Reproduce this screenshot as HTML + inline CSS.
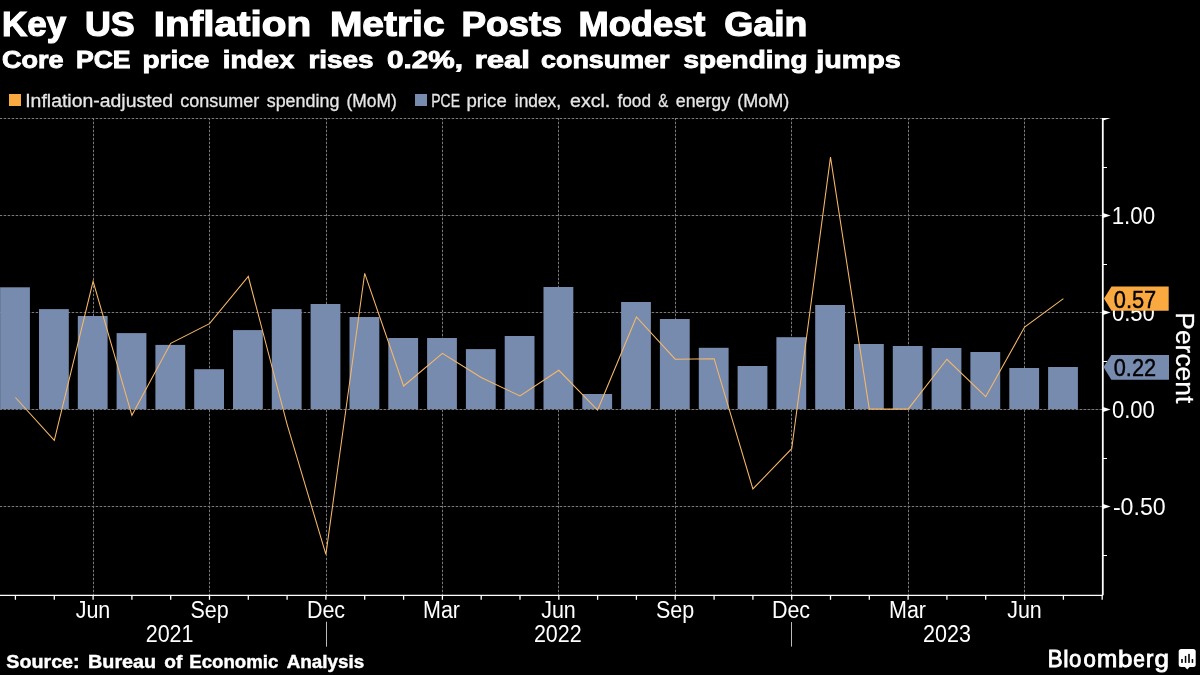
<!DOCTYPE html>
<html><head><meta charset="utf-8">
<style>
html,body{margin:0;padding:0;background:#000;width:1200px;height:675px;overflow:hidden}
svg{position:absolute;left:0;top:0;will-change:transform}
text{font-family:"Liberation Sans",sans-serif}
.g{stroke:#7a7a7a;stroke-width:1;stroke-dasharray:2.5 1.5;stroke-dashoffset:0.3}
</style></head><body>
<svg width="1200" height="675" viewBox="0 0 1200 675">
<rect width="1200" height="675" fill="#000"/>
<text x="2.02" y="36.4" font-size="35.5" font-weight="bold" fill="#fff" stroke="#fff" stroke-width="1.2" textLength="64.12" lengthAdjust="spacingAndGlyphs">Key</text>
<text x="84.99" y="36.4" font-size="35.5" font-weight="bold" fill="#fff" stroke="#fff" stroke-width="1.2" textLength="49.74" lengthAdjust="spacingAndGlyphs">US</text>
<text x="153.86" y="36.4" font-size="35.5" font-weight="bold" fill="#fff" stroke="#fff" stroke-width="1.2" textLength="157.32" lengthAdjust="spacingAndGlyphs">Inflation</text>
<text x="329.9" y="36.4" font-size="35.5" font-weight="bold" fill="#fff" stroke="#fff" stroke-width="1.2" textLength="114.71" lengthAdjust="spacingAndGlyphs">Metric</text>
<text x="461.46" y="36.4" font-size="35.5" font-weight="bold" fill="#fff" stroke="#fff" stroke-width="1.2" textLength="100.44" lengthAdjust="spacingAndGlyphs">Posts</text>
<text x="578.48" y="36.4" font-size="35.5" font-weight="bold" fill="#fff" stroke="#fff" stroke-width="1.2" textLength="126.96" lengthAdjust="spacingAndGlyphs">Modest</text>
<text x="724.35" y="36.4" font-size="35.5" font-weight="bold" fill="#fff" stroke="#fff" stroke-width="1.2" textLength="83.11" lengthAdjust="spacingAndGlyphs">Gain</text>
<text x="2.0" y="68.4" font-size="24.6" font-weight="bold" fill="#fff" stroke="#fff" stroke-width="0.9" textLength="61.65" lengthAdjust="spacingAndGlyphs">Core</text>
<text x="75.92" y="68.4" font-size="24.6" font-weight="bold" fill="#fff" stroke="#fff" stroke-width="0.9" textLength="54.71" lengthAdjust="spacingAndGlyphs">PCE</text>
<text x="142.46" y="68.4" font-size="24.6" font-weight="bold" fill="#fff" stroke="#fff" stroke-width="0.9" textLength="66.81" lengthAdjust="spacingAndGlyphs">price</text>
<text x="222.89" y="68.4" font-size="24.6" font-weight="bold" fill="#fff" stroke="#fff" stroke-width="0.9" textLength="71.26" lengthAdjust="spacingAndGlyphs">index</text>
<text x="308.47" y="68.4" font-size="24.6" font-weight="bold" fill="#fff" stroke="#fff" stroke-width="0.9" textLength="65.03" lengthAdjust="spacingAndGlyphs">rises</text>
<text x="387.0" y="68.4" font-size="24.6" font-weight="bold" fill="#fff" stroke="#fff" stroke-width="0.9" textLength="76.08" lengthAdjust="spacingAndGlyphs">0.2%,</text>
<text x="474.74" y="68.4" font-size="24.6" font-weight="bold" fill="#fff" stroke="#fff" stroke-width="0.9" textLength="55.23" lengthAdjust="spacingAndGlyphs">real</text>
<text x="541.0" y="68.4" font-size="24.6" font-weight="bold" fill="#fff" stroke="#fff" stroke-width="0.9" textLength="128.5" lengthAdjust="spacingAndGlyphs">consumer</text>
<text x="683.6" y="68.4" font-size="24.6" font-weight="bold" fill="#fff" stroke="#fff" stroke-width="0.9" textLength="123.89" lengthAdjust="spacingAndGlyphs">spending</text>
<text x="816.17" y="68.4" font-size="24.6" font-weight="bold" fill="#fff" stroke="#fff" stroke-width="0.9" textLength="84.54" lengthAdjust="spacingAndGlyphs">jumps</text>
<rect x="9" y="94" width="12" height="12" fill="#FAA940"/>
<text x="25.22" y="106.7" font-size="18" font-weight="normal" fill="#e6e6e6" stroke="#e6e6e6" stroke-width="0.3" textLength="147.96" lengthAdjust="spacingAndGlyphs">Inflation-adjusted</text>
<text x="180.3" y="106.7" font-size="18" font-weight="normal" fill="#e6e6e6" stroke="#e6e6e6" stroke-width="0.3" textLength="78.93" lengthAdjust="spacingAndGlyphs">consumer</text>
<text x="266.7" y="106.7" font-size="18" font-weight="normal" fill="#e6e6e6" stroke="#e6e6e6" stroke-width="0.3" textLength="72.67" lengthAdjust="spacingAndGlyphs">spending</text>
<text x="346.53" y="106.7" font-size="18" font-weight="normal" fill="#e6e6e6" stroke="#e6e6e6" stroke-width="0.3" textLength="50.23" lengthAdjust="spacingAndGlyphs">(MoM)</text>
<rect x="415" y="94" width="12" height="12" fill="#778BAF"/>
<text x="431.22" y="106.7" font-size="18" font-weight="normal" fill="#e6e6e6" stroke="#e6e6e6" stroke-width="0.3" textLength="28.79" lengthAdjust="spacingAndGlyphs">PCE</text>
<text x="466.47" y="106.7" font-size="18" font-weight="normal" fill="#e6e6e6" stroke="#e6e6e6" stroke-width="0.3" textLength="40.25" lengthAdjust="spacingAndGlyphs">price</text>
<text x="514.84" y="106.7" font-size="18" font-weight="normal" fill="#e6e6e6" stroke="#e6e6e6" stroke-width="0.3" textLength="46.17" lengthAdjust="spacingAndGlyphs">index,</text>
<text x="570.0" y="106.7" font-size="18" font-weight="normal" fill="#e6e6e6" stroke="#e6e6e6" stroke-width="0.3" textLength="40.31" lengthAdjust="spacingAndGlyphs">excl.</text>
<text x="617.5" y="106.7" font-size="18" font-weight="normal" fill="#e6e6e6" stroke="#e6e6e6" stroke-width="0.3" textLength="33.5" lengthAdjust="spacingAndGlyphs">food</text>
<text x="658.3" y="106.7" font-size="18" font-weight="normal" fill="#e6e6e6" stroke="#e6e6e6" stroke-width="0.3" textLength="10.01" lengthAdjust="spacingAndGlyphs">&amp;</text>
<text x="675.8" y="106.7" font-size="18" font-weight="normal" fill="#e6e6e6" stroke="#e6e6e6" stroke-width="0.3" textLength="54.25" lengthAdjust="spacingAndGlyphs">energy</text>
<text x="737.3" y="106.7" font-size="18" font-weight="normal" fill="#e6e6e6" stroke="#e6e6e6" stroke-width="0.3" textLength="52.0" lengthAdjust="spacingAndGlyphs">(MoM)</text>
<line x1="0" y1="118.5" x2="1102" y2="118.5" class="g"/>
<line x1="0" y1="215.5" x2="1102" y2="215.5" class="g"/>
<line x1="0" y1="312.5" x2="1102" y2="312.5" class="g"/>
<line x1="0" y1="409.5" x2="1102" y2="409.5" class="g"/>
<line x1="0" y1="506.5" x2="1102" y2="506.5" class="g"/>
<line x1="93.5" y1="118" x2="93.5" y2="595" class="g"/>
<line x1="209.5" y1="118" x2="209.5" y2="595" class="g"/>
<line x1="326.5" y1="118" x2="326.5" y2="595" class="g"/>
<line x1="442.5" y1="118" x2="442.5" y2="595" class="g"/>
<line x1="558.5" y1="118" x2="558.5" y2="595" class="g"/>
<line x1="675.5" y1="118" x2="675.5" y2="595" class="g"/>
<line x1="791.5" y1="118" x2="791.5" y2="595" class="g"/>
<line x1="908.5" y1="118" x2="908.5" y2="595" class="g"/>
<line x1="1024.5" y1="118" x2="1024.5" y2="595" class="g"/>
<rect x="0.1" y="287.3" width="29.8" height="121.7" fill="#778BAF"/>
<rect x="39.0" y="309.1" width="29.8" height="99.9" fill="#778BAF"/>
<rect x="77.8" y="316.0" width="29.8" height="93.0" fill="#778BAF"/>
<rect x="116.6" y="333.1" width="29.8" height="75.9" fill="#778BAF"/>
<rect x="155.4" y="344.9" width="29.8" height="64.1" fill="#778BAF"/>
<rect x="194.2" y="369.2" width="29.8" height="39.8" fill="#778BAF"/>
<rect x="233.0" y="330.1" width="29.8" height="78.9" fill="#778BAF"/>
<rect x="271.8" y="309.1" width="29.8" height="99.9" fill="#778BAF"/>
<rect x="310.6" y="304.0" width="29.8" height="105.0" fill="#778BAF"/>
<rect x="349.5" y="317.0" width="29.8" height="92.0" fill="#778BAF"/>
<rect x="388.3" y="338.0" width="29.8" height="71.0" fill="#778BAF"/>
<rect x="427.1" y="338.0" width="29.8" height="71.0" fill="#778BAF"/>
<rect x="465.9" y="349.1" width="29.8" height="59.9" fill="#778BAF"/>
<rect x="504.7" y="336.0" width="29.8" height="73.0" fill="#778BAF"/>
<rect x="543.5" y="287.0" width="29.8" height="122.0" fill="#778BAF"/>
<rect x="582.3" y="394.0" width="29.8" height="15.0" fill="#778BAF"/>
<rect x="621.1" y="302.0" width="29.8" height="107.0" fill="#778BAF"/>
<rect x="659.9" y="319.0" width="29.8" height="90.0" fill="#778BAF"/>
<rect x="698.8" y="347.8" width="29.8" height="61.2" fill="#778BAF"/>
<rect x="737.6" y="366.0" width="29.8" height="43.0" fill="#778BAF"/>
<rect x="776.4" y="337.2" width="29.8" height="71.8" fill="#778BAF"/>
<rect x="815.2" y="305.0" width="29.8" height="104.0" fill="#778BAF"/>
<rect x="854.0" y="344.0" width="29.8" height="65.0" fill="#778BAF"/>
<rect x="892.8" y="346.0" width="29.8" height="63.0" fill="#778BAF"/>
<rect x="931.6" y="348.0" width="29.8" height="61.0" fill="#778BAF"/>
<rect x="970.4" y="352.0" width="29.8" height="57.0" fill="#778BAF"/>
<rect x="1009.3" y="368.0" width="29.8" height="41.0" fill="#778BAF"/>
<rect x="1048.1" y="367.0" width="29.8" height="42.0" fill="#778BAF"/>
<line x1="0" y1="409.5" x2="1102" y2="409.5" class="g"/>
<polyline points="15.4,397.5 54.3,440.3 93.1,281.3 131.9,415.3 170.7,343.3 209.5,323.7 248.3,276.5 287.1,424.3 325.9,554.4 364.7,273.3 403.6,386.0 442.4,353.3 481.2,377.5 520.0,396.0 558.8,370.3 597.6,410.0 636.4,317.0 675.2,359.2 714.1,358.7 752.9,488.9 791.7,448.7 830.5,157.1 869.3,409.1 908.1,409.1 946.9,359.3 985.7,396.7 1024.6,327.0 1063.4,298.7" fill="none" stroke="#F7B868" stroke-width="1.05" stroke-linejoin="miter"/>
<line x1="1102.8" y1="118" x2="1102.8" y2="595.2" stroke="#fff" stroke-width="1.8"/>
<line x1="0" y1="595.3" x2="1103" y2="595.3" stroke="#fff" stroke-width="1.3"/>
<line x1="15.4" y1="595" x2="15.4" y2="599.8" stroke="#fff" stroke-width="1.3"/>
<line x1="54.3" y1="595" x2="54.3" y2="599.8" stroke="#fff" stroke-width="1.3"/>
<line x1="93.1" y1="595" x2="93.1" y2="599.8" stroke="#fff" stroke-width="1.3"/>
<line x1="131.9" y1="595" x2="131.9" y2="599.8" stroke="#fff" stroke-width="1.3"/>
<line x1="170.7" y1="595" x2="170.7" y2="599.8" stroke="#fff" stroke-width="1.3"/>
<line x1="209.5" y1="595" x2="209.5" y2="599.8" stroke="#fff" stroke-width="1.3"/>
<line x1="248.3" y1="595" x2="248.3" y2="599.8" stroke="#fff" stroke-width="1.3"/>
<line x1="287.1" y1="595" x2="287.1" y2="599.8" stroke="#fff" stroke-width="1.3"/>
<line x1="325.9" y1="595" x2="325.9" y2="599.8" stroke="#fff" stroke-width="1.3"/>
<line x1="364.7" y1="595" x2="364.7" y2="599.8" stroke="#fff" stroke-width="1.3"/>
<line x1="403.6" y1="595" x2="403.6" y2="599.8" stroke="#fff" stroke-width="1.3"/>
<line x1="442.4" y1="595" x2="442.4" y2="599.8" stroke="#fff" stroke-width="1.3"/>
<line x1="481.2" y1="595" x2="481.2" y2="599.8" stroke="#fff" stroke-width="1.3"/>
<line x1="520.0" y1="595" x2="520.0" y2="599.8" stroke="#fff" stroke-width="1.3"/>
<line x1="558.8" y1="595" x2="558.8" y2="599.8" stroke="#fff" stroke-width="1.3"/>
<line x1="597.6" y1="595" x2="597.6" y2="599.8" stroke="#fff" stroke-width="1.3"/>
<line x1="636.4" y1="595" x2="636.4" y2="599.8" stroke="#fff" stroke-width="1.3"/>
<line x1="675.2" y1="595" x2="675.2" y2="599.8" stroke="#fff" stroke-width="1.3"/>
<line x1="714.1" y1="595" x2="714.1" y2="599.8" stroke="#fff" stroke-width="1.3"/>
<line x1="752.9" y1="595" x2="752.9" y2="599.8" stroke="#fff" stroke-width="1.3"/>
<line x1="791.7" y1="595" x2="791.7" y2="599.8" stroke="#fff" stroke-width="1.3"/>
<line x1="830.5" y1="595" x2="830.5" y2="599.8" stroke="#fff" stroke-width="1.3"/>
<line x1="869.3" y1="595" x2="869.3" y2="599.8" stroke="#fff" stroke-width="1.3"/>
<line x1="908.1" y1="595" x2="908.1" y2="599.8" stroke="#fff" stroke-width="1.3"/>
<line x1="946.9" y1="595" x2="946.9" y2="599.8" stroke="#fff" stroke-width="1.3"/>
<line x1="985.7" y1="595" x2="985.7" y2="599.8" stroke="#fff" stroke-width="1.3"/>
<line x1="1024.6" y1="595" x2="1024.6" y2="599.8" stroke="#fff" stroke-width="1.3"/>
<line x1="1063.4" y1="595" x2="1063.4" y2="599.8" stroke="#fff" stroke-width="1.3"/>
<line x1="1102.2" y1="595" x2="1102.2" y2="599.8" stroke="#fff" stroke-width="1.3"/>
<path d="M1103,212.9 L1110.7,215.5 L1103,218.1Z" fill="#fff"/>
<path d="M1103,309.9 L1110.7,312.5 L1103,315.1Z" fill="#fff"/>
<path d="M1103,406.9 L1110.7,409.5 L1103,412.1Z" fill="#fff"/>
<path d="M1103,503.9 L1110.7,506.5 L1103,509.1Z" fill="#fff"/>
<path d="M1103,118 L1110.7,118 L1103,120.6Z" fill="#fff"/>
<line x1="1103" y1="167.5" x2="1107" y2="167.5" stroke="#fff" stroke-width="1"/>
<line x1="1103" y1="264.5" x2="1107" y2="264.5" stroke="#fff" stroke-width="1"/>
<line x1="1103" y1="361.5" x2="1107" y2="361.5" stroke="#fff" stroke-width="1"/>
<line x1="1103" y1="458.5" x2="1107" y2="458.5" stroke="#fff" stroke-width="1"/>
<line x1="1103" y1="555.5" x2="1107" y2="555.5" stroke="#fff" stroke-width="1"/>
<g font-size="23.1" fill="#fff">
<text x="1111.67" y="223.5" textLength="43.45" lengthAdjust="spacingAndGlyphs">1.00</text>
<text x="1111.94" y="320.8" textLength="42.97" lengthAdjust="spacingAndGlyphs">0.50</text>
<text x="1111.94" y="417.7" textLength="42.97" lengthAdjust="spacingAndGlyphs">0.00</text>
<text x="1112.9" y="514.5" textLength="52.85" lengthAdjust="spacingAndGlyphs">-0.50</text>
</g>
<path d="M1104,298.6 L1111.5,286.5 L1168.7,286.5 L1168.7,310.7 L1111.5,310.7Z" fill="#FAA940"/>
<text x="1113.75" y="307.5" font-size="23.2" fill="#000" stroke="#000" stroke-width="0.4" textLength="42.52" lengthAdjust="spacingAndGlyphs">0.57</text>
<path d="M1103.5,367 L1111.3,355 L1169,355 L1169,379.8 L1111.3,379.8Z" fill="#778BAF"/>
<text x="1113.75" y="376.3" font-size="23.2" fill="#000" stroke="#000" stroke-width="0.4" textLength="42.32" lengthAdjust="spacingAndGlyphs">0.22</text>
<text transform="translate(1175.8,312.3) rotate(90)" x="0" y="0" font-size="26.5" fill="#fff" stroke="#fff" stroke-width="0.3" textLength="91" lengthAdjust="spacingAndGlyphs">Percent</text>
<g font-size="23.1" fill="#fff" text-anchor="middle">
<text x="93" y="617.5" textLength="34.66" lengthAdjust="spacingAndGlyphs">Jun</text>
<text x="209.5" y="617.5" textLength="38.25" lengthAdjust="spacingAndGlyphs">Sep</text>
<text x="326" y="617.5" textLength="38.23" lengthAdjust="spacingAndGlyphs">Dec</text>
<text x="441.5" y="617.5" textLength="37.02" lengthAdjust="spacingAndGlyphs">Mar</text>
<text x="558.5" y="617.5" textLength="34.66" lengthAdjust="spacingAndGlyphs">Jun</text>
<text x="675" y="617.5" textLength="38.25" lengthAdjust="spacingAndGlyphs">Sep</text>
<text x="791" y="617.5" textLength="38.23" lengthAdjust="spacingAndGlyphs">Dec</text>
<text x="907.5" y="617.5" textLength="37.02" lengthAdjust="spacingAndGlyphs">Mar</text>
<text x="1024.5" y="617.5" textLength="34.66" lengthAdjust="spacingAndGlyphs">Jun</text>
<text x="169.6" y="642.3" textLength="47.82" lengthAdjust="spacingAndGlyphs">2021</text>
<text x="557.8" y="642.3" textLength="47.82" lengthAdjust="spacingAndGlyphs">2022</text>
<text x="947" y="642.3" textLength="47.82" lengthAdjust="spacingAndGlyphs">2023</text>
</g>
<line x1="326.5" y1="621.7" x2="326.5" y2="646.7" stroke="#bbb" stroke-width="1"/>
<line x1="791.5" y1="622" x2="791.5" y2="646.6" stroke="#bbb" stroke-width="1"/>
<text x="6.3" y="667.5" font-size="17.8" font-weight="bold" fill="#fff" stroke="#fff" stroke-width="0.4" textLength="73.33" lengthAdjust="spacingAndGlyphs">Source:</text>
<text x="88.09" y="667.5" font-size="17.8" font-weight="bold" fill="#fff" stroke="#fff" stroke-width="0.4" textLength="68.0" lengthAdjust="spacingAndGlyphs">Bureau</text>
<text x="164.2" y="667.5" font-size="17.8" font-weight="bold" fill="#fff" stroke="#fff" stroke-width="0.4" textLength="18.08" lengthAdjust="spacingAndGlyphs">of</text>
<text x="189.25" y="667.5" font-size="17.8" font-weight="bold" fill="#fff" stroke="#fff" stroke-width="0.4" textLength="89.03" lengthAdjust="spacingAndGlyphs">Economic</text>
<text x="286.7" y="667.5" font-size="17.8" font-weight="bold" fill="#fff" stroke="#fff" stroke-width="0.4" textLength="77.65" lengthAdjust="spacingAndGlyphs">Analysis</text>
<g font-size="24" fill="#fff" stroke="#fff" stroke-width="0.9"><text x="1047.82" y="666.8" textLength="14.87" lengthAdjust="spacingAndGlyphs">B</text><text x="1063.25" y="666.8" textLength="5.34" lengthAdjust="spacingAndGlyphs">l</text><text x="1069.0" y="666.8" textLength="12.33" lengthAdjust="spacingAndGlyphs">o</text><text x="1083.5" y="666.8" textLength="12.33" lengthAdjust="spacingAndGlyphs">o</text><text x="1096.99" y="666.8" textLength="20.28" lengthAdjust="spacingAndGlyphs">m</text><text x="1117.92" y="666.8" textLength="14.47" lengthAdjust="spacingAndGlyphs">b</text><text x="1133.25" y="666.8" textLength="11.56" lengthAdjust="spacingAndGlyphs">e</text><text x="1146.07" y="666.8" textLength="7.43" lengthAdjust="spacingAndGlyphs">r</text><text x="1154.5" y="666.8" textLength="14.47" lengthAdjust="spacingAndGlyphs">g</text></g>
<g>
<rect x="1178.7" y="649" width="17" height="18" rx="2.5" fill="#fff"/>
<path d="M1184.5,666.5 L1187.2,669.6 L1190,666.5Z" fill="#fff"/>
<rect x="1181.2" y="659" width="1.6" height="3.9" fill="#000"/>
<rect x="1184.8" y="655.9" width="1.5" height="7" fill="#000"/>
<rect x="1188.2" y="653.9" width="1.6" height="9" fill="#000"/>
<rect x="1191.7" y="659" width="1.5" height="3.9" fill="#000"/>
</g>
</svg>
</body></html>
